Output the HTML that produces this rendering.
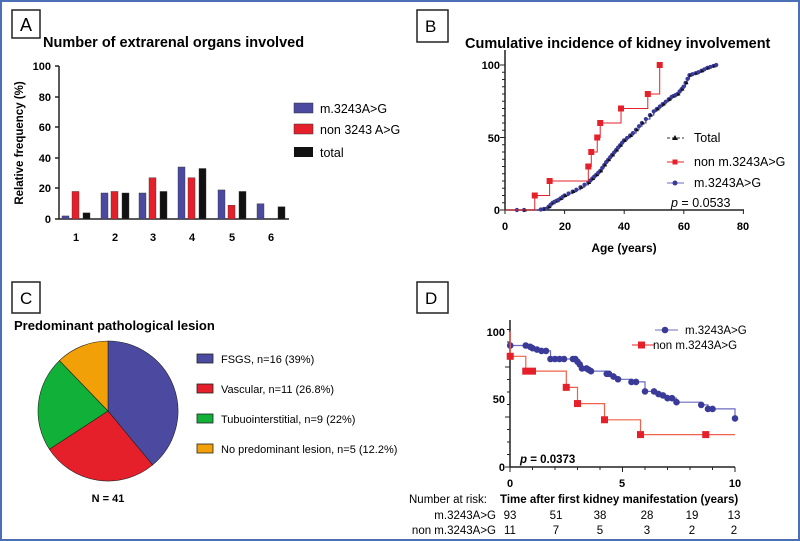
<!DOCTYPE html>
<html><head><meta charset="utf-8"><style>
body{margin:0;background:#fff}
svg{display:block;font-family:"Liberation Sans",Arial,sans-serif}
</style></head><body>
<svg id="s" width="800" height="541" viewBox="0 0 800 541" xmlns="http://www.w3.org/2000/svg">
<rect x="1" y="1" width="798" height="539" fill="#fff" stroke="#4a6fb5" stroke-width="2"/>
<!-- Panel A -->
<rect x="12" y="10" width="28" height="28" fill="none" stroke="#222" stroke-width="1.5"/>
<text x="20" y="31" font-size="18">A</text>
<text x="43" y="47" font-size="14.5" font-weight="bold">Number of extrarenal organs involved</text>
<g stroke="#222" stroke-width="1.5"><line x1="59" y1="66" x2="59" y2="219"/><line x1="59" y1="219" x2="289" y2="219"/></g>
<g font-size="11" font-weight="bold" text-anchor="end">
<text x="51" y="223">0</text><text x="51" y="192">20</text><text x="51" y="162">40</text><text x="51" y="131">60</text><text x="51" y="101">80</text><text x="51" y="70">100</text></g>
<g stroke="#222" stroke-width="1.5"><line x1="55" y1="219" x2="59" y2="219"/><line x1="55" y1="188" x2="59" y2="188"/><line x1="55" y1="158" x2="59" y2="158"/><line x1="55" y1="127" x2="59" y2="127"/><line x1="55" y1="97" x2="59" y2="97"/><line x1="55" y1="66" x2="59" y2="66"/></g>
<text transform="translate(23,143) rotate(-90)" font-size="11.5" font-weight="bold" text-anchor="middle">Relative frequency (%)</text>
<g id="bars"></g>
<g font-size="11" font-weight="bold" text-anchor="middle">
<text x="76" y="241">1</text><text x="115" y="241">2</text><text x="153" y="241">3</text><text x="192" y="241">4</text><text x="232" y="241">5</text><text x="271" y="241">6</text></g>
<rect x="294" y="103" width="19" height="10" fill="#4b4aa0" stroke="#333" stroke-width=".5"/>
<rect x="294" y="124" width="19" height="10" fill="#e5202a" stroke="#333" stroke-width=".5"/>
<rect x="294" y="147" width="19" height="10" fill="#111"/>
<g font-size="12.5"><text x="320" y="113">m.3243A&gt;G</text><text x="320" y="134">non 3243 A&gt;G</text><text x="320" y="157">total</text></g>

<!-- Panel B -->
<rect x="417" y="10" width="31" height="32" fill="none" stroke="#222" stroke-width="1.5"/>
<text x="425" y="32" font-size="17">B</text>
<text x="465" y="48" font-size="14.5" font-weight="bold">Cumulative incidence of kidney involvement</text>
<g stroke="#222" stroke-width="1.5"><line x1="505" y1="50" x2="505" y2="210"/><line x1="505" y1="210" x2="744" y2="210"/></g>
<g id="bticks" stroke="#222" stroke-width="1"></g>
<g font-size="11" font-weight="bold" text-anchor="end"><text x="500" y="214">0</text><text x="500" y="142">50</text><text x="500" y="69">100</text></g>
<g font-size="11" font-weight="bold" text-anchor="middle"><text x="505" y="230">0</text><text x="565" y="230">20</text><text x="624" y="230">40</text><text x="684" y="230">60</text><text x="743" y="230">80</text></g>
<text x="624" y="252" font-size="12" font-weight="bold" text-anchor="middle">Age (years)</text>
<g id="bcurves"></g>
<g font-size="12.5">
<line x1="667" y1="138" x2="684" y2="138" stroke="#333" stroke-dasharray="3,2"/><path d="M675,135 l3,5 h-6z" fill="#111"/>
<text x="694" y="142">Total</text>
<line x1="667" y1="162" x2="684" y2="162" stroke="#e5202a"/><rect x="672.5" y="159.5" width="5" height="5" fill="#e5202a"/>
<text x="694" y="166">non m.3243A&gt;G</text>
<line x1="667" y1="183" x2="684" y2="183" stroke="#6b6bc0"/><circle cx="675" cy="183" r="2.5" fill="#3a3a98"/>
<text x="694" y="187">m.3243A&gt;G</text>
<text x="671" y="207"><tspan font-style="italic">p</tspan> = 0.0533</text></g>

<!-- Panel C -->
<rect x="12" y="282" width="28" height="31" fill="none" stroke="#222" stroke-width="1.5"/>
<text x="20" y="304" font-size="17">C</text>
<text x="14" y="330" font-size="13" font-weight="bold">Predominant pathological lesion</text>
<g id="pie" stroke="#222" stroke-width=".6"></g>
<rect x="197" y="354" width="16" height="9" fill="#4b4aa0" stroke="#222" stroke-width=".8"/>
<rect x="197" y="384" width="16" height="9" fill="#e5202a" stroke="#222" stroke-width=".8"/>
<rect x="197" y="414" width="16" height="9" fill="#10b039" stroke="#222" stroke-width=".8"/>
<rect x="197" y="444" width="16" height="9" fill="#f2a007" stroke="#222" stroke-width=".8"/>
<g font-size="11"><text x="221" y="363">FSGS, n=16 (39%)</text><text x="221" y="393">Vascular, n=11 (26.8%)</text><text x="221" y="423">Tubuointerstitial, n=9 (22%)</text><text x="221" y="453">No predominant lesion, n=5 (12.2%)</text></g>
<text x="108" y="502" font-size="11" font-weight="bold" text-anchor="middle">N = 41</text>

<!-- Panel D -->
<rect x="417" y="282" width="31" height="31" fill="none" stroke="#222" stroke-width="1.5"/>
<text x="425" y="304" font-size="17">D</text>
<g stroke="#222" stroke-width="1.5"><line x1="510" y1="320" x2="510" y2="467"/><line x1="510" y1="467" x2="735" y2="467"/></g>
<g id="dticks" stroke="#222" stroke-width="1"></g>
<g font-size="11" font-weight="bold" text-anchor="end"><text x="505" y="471">0</text><text x="505" y="403">50</text><text x="505" y="336">100</text></g>
<g font-size="11" font-weight="bold" text-anchor="middle"><text x="510" y="487">0</text><text x="622" y="487">5</text><text x="735" y="487">10</text></g>
<g id="dcurves"></g>
<line x1="655" y1="330" x2="678" y2="330" stroke="#6b6bc0"/><circle cx="665" cy="330" r="3.3" fill="#3a3a98"/>
<line x1="632" y1="345" x2="654" y2="345" stroke="#e5202a"/><rect x="638" y="341.5" width="7" height="7" fill="#e5202a"/>
<g font-size="11.5"><text x="685" y="334">m.3243A&gt;G</text><text x="653" y="349">non m.3243A&gt;G</text></g>
<text x="520" y="463" font-size="11.5" font-weight="bold"><tspan font-style="italic">p</tspan> = 0.0373</text>
<g font-size="11.5">
<text x="409" y="503">Number at risk:</text>
<text x="500" y="503" font-weight="bold">Time after first kidney manifestation (years)</text>
<text x="496" y="519" text-anchor="end">m.3243A&gt;G</text>
<text x="496" y="534" text-anchor="end">non m.3243A&gt;G</text>
<g text-anchor="middle"><text x="510" y="519">93</text><text x="556" y="519">51</text><text x="600" y="519">38</text><text x="647" y="519">28</text><text x="692" y="519">19</text><text x="734" y="519">13</text>
<text x="510" y="534">11</text><text x="556" y="534">7</text><text x="600" y="534">5</text><text x="647" y="534">3</text><text x="692" y="534">2</text><text x="734" y="534">2</text></g></g>
</svg>
<script>
var NS="http://www.w3.org/2000/svg";
function el(p,t,a){var e=document.createElementNS(NS,t);for(var k in a)e.setAttribute(k,a[k]);document.getElementById(p).appendChild(e);return e;}
var vals=[[2,18,4],[17,18,17],[17,27,18],[34,27,33],[19,9,18],[10,0,8]],cols=["#4b4aa0","#e5202a","#111"],cx=[76,115,153,192,232,271],off=[-14,-4,7];
vals.forEach(function(v,i){v.forEach(function(h,j){if(h>0)el("bars","rect",{x:cx[i]+off[j],y:219-h*1.53,width:7,height:h*1.53,fill:cols[j],stroke:"#333","stroke-width":.4});});});
for(var i=0;i<=20;i++){var y=210-i*7.25;el("bticks","line",{x1:i%10==0?500:502,y1:y,x2:505,y2:y});}
for(var i=0;i<=4;i++){var x=505+i*59.6;el("bticks","line",{x1:x,y1:210,x2:x,y2:214});}
function bx(a){return 505+a*2.975} function by(v){return 210-v*1.45}
var red=[[0,0],[10,10],[15,20],[28,30],[29,40],[31,50],[32,60],[39,70],[48,80],[52,100]];
var d="M"+bx(4)+","+by(0);red.forEach(function(p){d+=" H"+bx(p[0])+" V"+by(p[1]);});
var bp=[[4,0],[11,0],[14,1],[16,5],[18,7],[20,10],[24,14],[28,19],[30,23],[32,27],[34,33],[36,38],[38,43],[40,48],[43,53],[46,60],[50,68],[53,73],[56,78],[58,80],[60,85],[62,93],[65,95],[68,98],[71,100]];
var pts=[];for(var i=0;i<bp.length-1;i++){var a=bp[i],b=bp[i+1];for(var t=0;t<1;t+=0.34){pts.push([a[0]+(b[0]-a[0])*t,a[1]+(b[1]-a[1])*t]);}}pts.push([71,100]);
var pd="M"+bx(pts[0][0])+","+by(pts[0][1]);pts.forEach(function(p){pd+=" H"+bx(p[0]).toFixed(1)+" V"+by(p[1]).toFixed(1);});
el("bcurves","path",{d:pd,fill:"none",stroke:"#6b6bc0","stroke-width":1.2});
el("bcurves","path",{d:pd,fill:"none",stroke:"#333","stroke-width":.8,"stroke-dasharray":"2,2"});
pts.forEach(function(p,i){if(p[1]>0||i<2){el("bcurves","circle",{cx:bx(p[0]),cy:by(p[1]),r:2.1,fill:"#3a3a98"});if(i%2)el("bcurves","path",{d:"M"+bx(p[0]+.3)+","+(by(p[1])-2)+" l2,3.5 h-4z",fill:"#111"});}});
el("bcurves","path",{d:d,fill:"none",stroke:"#e5202a","stroke-width":1});
red.forEach(function(p){if(p[1]>0)el("bcurves","rect",{x:bx(p[0])-3,y:by(p[1])-3,width:6,height:6,fill:"#e5202a"});});
var P=[[.39,"#4b4aa0"],[.268,"#e5202a"],[.22,"#10b039"],[.122,"#f2a007"]],a0=-Math.PI/2,cxp=108,cyp=411,R=70;
P.forEach(function(s){var a1=a0+s[0]*2*Math.PI;var x0=cxp+R*Math.cos(a0),y0=cyp+R*Math.sin(a0),x1=cxp+R*Math.cos(a1),y1=cyp+R*Math.sin(a1);
el("pie","path",{d:"M"+cxp+","+cyp+" L"+x0+","+y0+" A"+R+","+R+" 0 "+(s[0]>.5?1:0)+" 1 "+x1+","+y1+"Z",fill:s[1]});a0=a1;});
function dx(t){return 510+t*22.5} function dy(v){return 467-v*1.35}
for(var i=0;i<=11;i++){var y=467-i*12.5;el("dticks","line",{x1:i%4==0?505:507,y1:y,x2:510,y2:y});}
for(var i=0;i<=10;i++){var x=dx(i);el("dticks","line",{x1:x,y1:467,x2:x,y2:i%5==0?472:470});}
var blue=[[0,100],[0.01,90],[0.7,90],[0.9,89],[1,88],[1.2,87],[1.4,86],[1.6,86],[1.8,80],[2,80],[2.2,80],[2.4,80],[2.8,80],[2.9,80],[3,78],[3.1,76],[3.2,73],[3.4,73],[3.5,72],[3.6,71],[4.3,69],[4.4,69],[4.6,67],[4.8,65],[5.4,63],[5.6,63],[6,56],[6.4,56],[6.6,54],[6.8,53],[7,51],[7.2,51],[7.4,48],[8.5,46],[8.8,43],[9,43],[10,36]];
var bd="M"+dx(0)+","+dy(100);blue.forEach(function(p){bd+=" H"+dx(p[0]).toFixed(1)+" V"+dy(p[1]).toFixed(1);});
el("dcurves","path",{d:bd,fill:"none",stroke:"#6b6bc0","stroke-width":1.2});
blue.slice(1).forEach(function(p){el("dcurves","circle",{cx:dx(p[0]),cy:dy(p[1]),r:3.3,fill:"#3a3a98"});});
var rd=[[0,100],[0.01,82],[0.7,71],[1,71],[2.5,59],[3,47],[4.2,35],[5.8,24],[8.7,24],[10,24]];
var rdd="M"+dx(0)+","+dy(100);rd.forEach(function(p){rdd+=" H"+dx(p[0]).toFixed(1)+" V"+dy(p[1]).toFixed(1);});
el("dcurves","path",{d:rdd,fill:"none",stroke:"#f0604a","stroke-width":1.2});
rd.slice(1,9).forEach(function(p){el("dcurves","rect",{x:dx(p[0])-3.5,y:dy(p[1])-3.5,width:7,height:7,fill:"#e5202a"});});
</script>
</body></html>
